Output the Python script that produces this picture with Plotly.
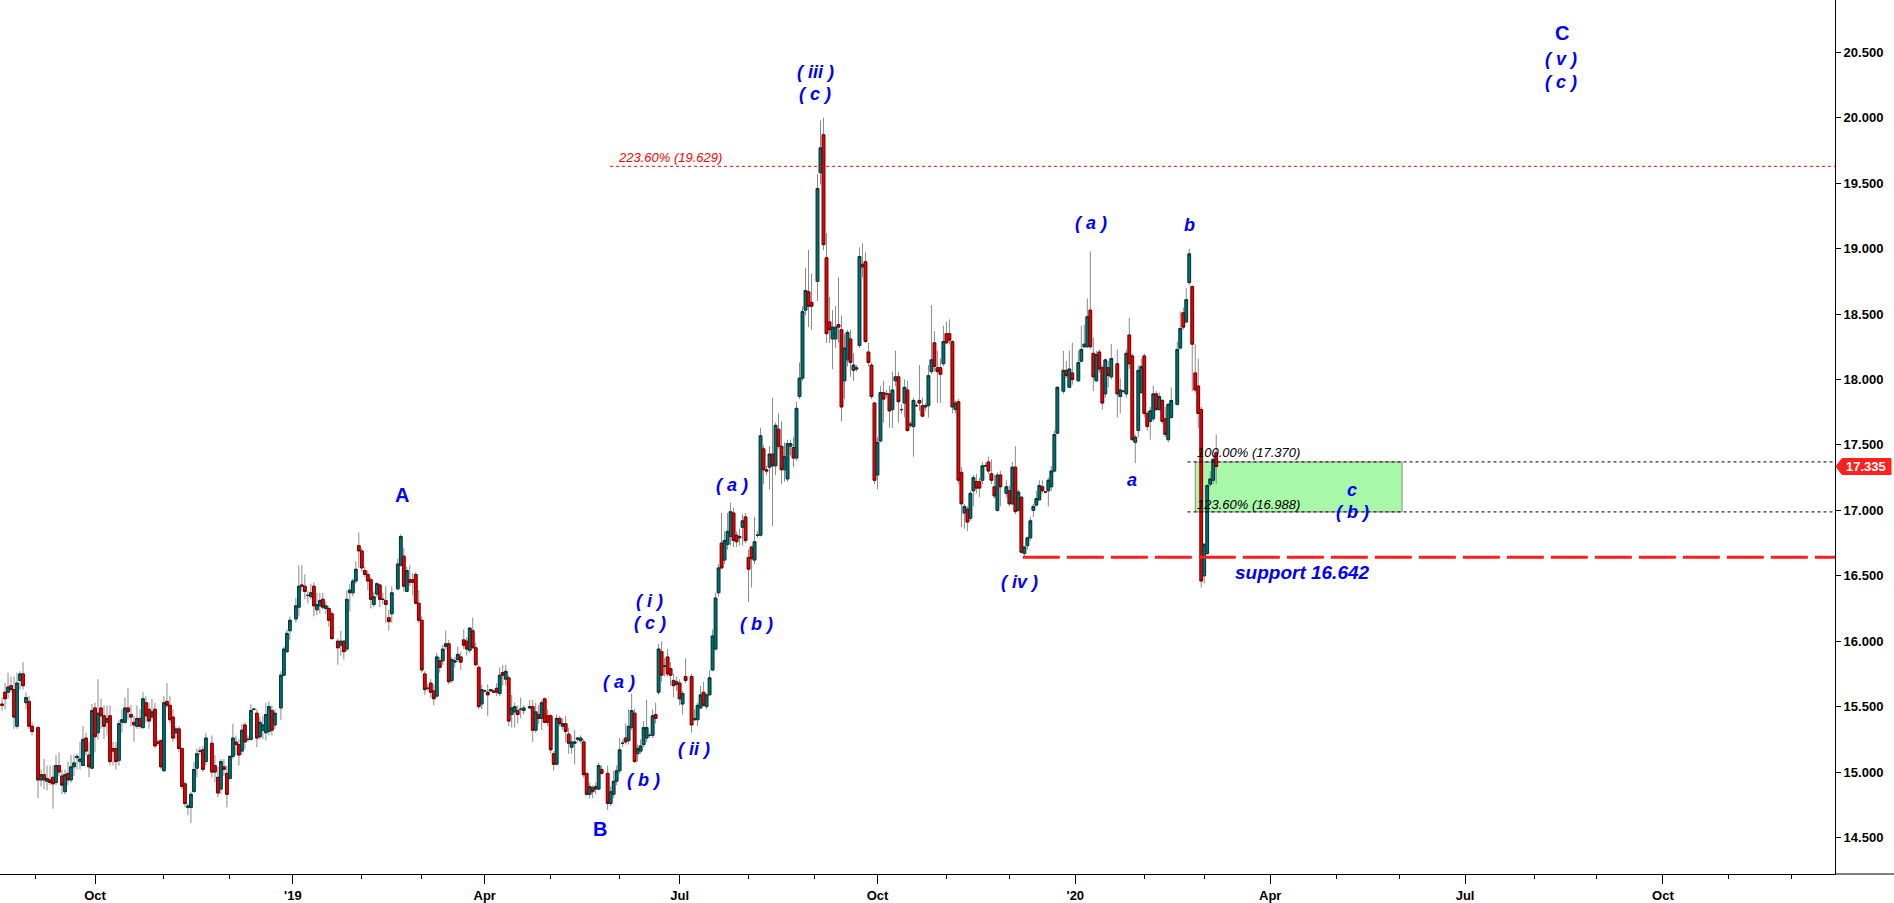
import pandas as pd
import plotly.graph_objects as go

# ---------------- data: daily candles (open, high, low, close) ----------------
aug_2018 = [
    (15.52, 15.57, 15.47, 15.51), (15.61, 15.68, 15.48, 15.56), (15.61, 15.76, 15.56, 15.65),
    (15.66, 15.73, 15.61, 15.63), (15.63, 15.73, 15.33, 15.42), (15.35, 15.76, 15.33, 15.68),
    (15.70, 15.77, 15.63, 15.75), (15.75, 15.84, 15.63, 15.66), (15.53, 15.61, 15.48, 15.57),
    (15.54, 15.58, 15.33, 15.35), (15.35, 15.38, 15.28, 15.31),
]
sep_2018 = [
    (15.34, 15.35, 14.80, 14.94), (14.94, 15.02, 14.89, 14.98), (14.98, 15.10, 14.87, 14.94),
    (14.93, 15.05, 14.86, 14.95), (14.94, 15.05, 14.90, 14.92), (14.96, 15.05, 14.72, 14.91),
    (14.92, 15.13, 14.90, 15.05), (15.05, 15.15, 14.97, 15.00), (14.97, 15.02, 14.83, 14.90),
    (14.85, 15.02, 14.83, 14.98), (14.99, 15.08, 14.90, 14.94), (14.94, 15.13, 14.92, 15.04),
    (15.04, 15.13, 14.97, 15.07), (15.11, 15.14, 15.02, 15.12), (15.08, 15.23, 15.02, 15.10),
    (15.05, 15.35, 15.05, 15.25), (15.26, 15.30, 15.13, 15.16), (15.13, 15.23, 14.96, 15.04),
    (15.03, 15.52, 15.02, 15.47),
]
oct_2018 = [
    (15.49, 15.53, 15.15, 15.27), (15.30, 15.71, 15.25, 15.45), (15.49, 15.56, 15.33, 15.43),
    (15.43, 15.51, 15.25, 15.35), (15.38, 15.51, 15.28, 15.41), (15.43, 15.51, 15.05, 15.08),
    (15.18, 15.23, 15.05, 15.16), (15.18, 15.23, 15.02, 15.08), (15.09, 15.40, 15.05, 15.37),
    (15.38, 15.48, 15.30, 15.40), (15.38, 15.57, 15.37, 15.49), (15.49, 15.64, 15.40, 15.46),
    (15.44, 15.51, 15.35, 15.42), (15.38, 15.43, 15.23, 15.36), (15.35, 15.51, 15.33, 15.41),
    (15.41, 15.48, 15.33, 15.35), (15.34, 15.61, 15.33, 15.56), (15.53, 15.58, 15.38, 15.43),
    (15.48, 15.53, 15.33, 15.39), (15.42, 15.56, 15.40, 15.46), (15.48, 15.53, 15.18, 15.20),
    (15.23, 15.25, 15.20, 15.22), (15.24, 15.25, 15.02, 15.04),
]
nov_2018 = [
    (15.01, 15.58, 15.00, 15.53), (15.54, 15.68, 15.49, 15.51), (15.51, 15.58, 15.37, 15.40),
    (15.42, 15.48, 15.23, 15.26), (15.30, 15.35, 15.25, 15.33), (15.33, 15.35, 15.15, 15.18),
    (15.18, 15.19, 14.87, 14.89), (14.91, 14.93, 14.73, 14.76), (14.73, 14.76, 14.67, 14.74),
    (14.73, 14.85, 14.61, 14.83), (14.85, 15.08, 14.85, 15.02), (15.03, 15.18, 14.96, 15.14),
    (15.16, 15.19, 15.13, 15.16), (15.17, 15.20, 15.00, 15.02), (15.08, 15.30, 15.05, 15.26),
    (15.22, 15.28, 14.96, 15.00), (15.05, 15.13, 14.92, 15.00), (14.96, 15.04, 14.81, 14.84),
    (14.87, 15.10, 14.83, 15.08), (15.04, 15.10, 14.97, 15.02), (14.99, 15.05, 14.73, 14.83),
]
dec_2018 = [
    (14.95, 15.13, 14.95, 15.12), (15.12, 15.37, 15.10, 15.26), (15.23, 15.28, 15.13, 15.21),
    (15.21, 15.25, 15.05, 15.13), (15.16, 15.37, 15.13, 15.32), (15.36, 15.38, 15.18, 15.23),
    (15.25, 15.28, 15.23, 15.25), (15.25, 15.52, 15.24, 15.47), (15.48, 15.49, 15.47, 15.48),
    (15.45, 15.48, 15.19, 15.26), (15.27, 15.42, 15.25, 15.38), (15.32, 15.43, 15.25, 15.36),
    (15.30, 15.53, 15.24, 15.44), (15.31, 15.54, 15.28, 15.50), (15.47, 15.51, 15.28, 15.32),
    (15.36, 15.48, 15.33, 15.45), (15.49, 15.77, 15.40, 15.74), (15.74, 15.96, 15.73, 15.94),
    (15.92, 16.09, 15.91, 16.06), (16.08, 16.19, 16.01, 16.16),
]
jan_2019 = [
    (16.17, 16.33, 16.14, 16.27), (16.26, 16.58, 16.19, 16.42), (16.43, 16.58, 16.38, 16.42),
    (16.42, 16.51, 16.32, 16.38), (16.35, 16.38, 16.29, 16.35), (16.34, 16.44, 16.32, 16.37),
    (16.42, 16.45, 16.19, 16.27), (16.24, 16.37, 16.20, 16.28), (16.27, 16.37, 16.21, 16.31),
    (16.32, 16.37, 16.24, 16.26), (16.25, 16.30, 16.21, 16.27), (16.25, 16.27, 16.11, 16.16),
    (16.21, 16.23, 16.01, 16.02), (16.00, 16.02, 15.82, 15.95), (15.97, 16.08, 15.89, 16.00),
    (16.00, 16.01, 15.86, 15.92), (15.94, 16.39, 15.92, 16.32), (16.37, 16.44, 16.23, 16.39),
    (16.37, 16.48, 16.34, 16.46), (16.46, 16.61, 16.44, 16.55), (16.73, 16.83, 16.56, 16.69),
]
feb_2019 = [
    (16.69, 16.71, 16.53, 16.56), (16.54, 16.57, 16.49, 16.51), (16.51, 16.54, 16.39, 16.46),
    (16.47, 16.49, 16.25, 16.32), (16.28, 16.38, 16.26, 16.34), (16.36, 16.45, 16.34, 16.44),
    (16.43, 16.44, 16.26, 16.32), (16.32, 16.37, 16.28, 16.32), (16.31, 16.42, 16.14, 16.28),
    (16.18, 16.24, 16.08, 16.15), (16.21, 16.42, 16.14, 16.37), (16.40, 16.63, 16.39, 16.59),
    (16.58, 16.82, 16.57, 16.80), (16.65, 16.71, 16.38, 16.42), (16.38, 16.57, 16.38, 16.54),
    (16.47, 16.58, 16.42, 16.45), (16.47, 16.52, 16.35, 16.45), (16.51, 16.53, 16.29, 16.29),
    (16.29, 16.39, 16.14, 16.16),
]
mar_2019 = [
    (16.16, 16.19, 15.76, 15.78), (15.75, 15.77, 15.59, 15.63), (15.64, 15.67, 15.62, 15.64),
    (15.68, 15.71, 15.57, 15.61), (15.62, 15.67, 15.51, 15.56), (15.58, 15.91, 15.57, 15.88),
    (15.85, 15.88, 15.76, 15.80), (15.85, 15.97, 15.82, 15.94), (15.96, 16.08, 15.94, 15.98),
    (15.98, 16.01, 15.67, 15.69), (15.70, 15.88, 15.68, 15.86), (15.84, 15.88, 15.80, 15.85),
    (15.86, 15.96, 15.84, 15.90), (15.88, 15.92, 15.78, 15.84), (16.01, 16.09, 15.94, 15.97),
    (16.00, 16.03, 15.89, 15.94), (15.93, 16.11, 15.91, 16.10), (16.08, 16.18, 15.94, 15.95),
    (15.95, 15.99, 15.81, 15.82), (15.80, 15.82, 15.48, 15.50), (15.52, 15.67, 15.48, 15.63),
]
apr_2019 = [
    (15.62, 15.63, 15.61, 15.62), (15.61, 15.67, 15.43, 15.59), (15.62, 15.63, 15.62, 15.63),
    (15.62, 15.63, 15.61, 15.61), (15.64, 15.68, 15.58, 15.61), (15.60, 15.80, 15.58, 15.74),
    (15.76, 15.82, 15.66, 15.74), (15.71, 15.82, 15.66, 15.77), (15.72, 15.74, 15.35, 15.39),
    (15.44, 15.59, 15.34, 15.49), (15.46, 15.53, 15.34, 15.50), (15.47, 15.51, 15.37, 15.44),
    (15.48, 15.57, 15.41, 15.48), (15.47, 15.51, 15.44, 15.49), (15.49, 15.55, 15.48, 15.50),
    (15.50, 15.55, 15.23, 15.32), (15.32, 15.53, 15.30, 15.46), (15.44, 15.51, 15.37, 15.41),
    (15.41, 15.55, 15.32, 15.53), (15.56, 15.57, 15.37, 15.38), (15.43, 15.48, 15.35, 15.38),
]
may_2019 = [
    (15.43, 15.44, 15.14, 15.17), (15.14, 15.16, 15.01, 15.06), (15.06, 15.44, 15.05, 15.41),
    (15.41, 15.43, 15.35, 15.37), (15.35, 15.41, 15.32, 15.37), (15.37, 15.43, 15.23, 15.31),
    (15.29, 15.34, 15.14, 15.22), (15.19, 15.28, 15.14, 15.23), (15.22, 15.32, 15.06, 15.23),
    (15.25, 15.26, 15.23, 15.26), (15.24, 15.28, 15.22, 15.26), (15.23, 15.25, 14.96, 14.98),
    (14.99, 14.99, 14.82, 14.83), (14.83, 14.92, 14.80, 14.89), (14.88, 14.90, 14.80, 14.85),
    (14.87, 14.92, 14.83, 14.89), (14.87, 15.07, 14.86, 15.05), (15.02, 15.05, 14.98, 14.99),
    (14.99, 15.05, 14.71, 14.76), (14.76, 14.89, 14.74, 14.85), (14.83, 15.01, 14.80, 14.93),
    (14.93, 15.05, 14.90, 15.01),
]
jun_2019 = [
    (15.01, 15.26, 14.99, 15.17), (15.22, 15.25, 15.19, 15.22), (15.26, 15.37, 15.21, 15.23),
    (15.24, 15.48, 15.21, 15.35), (15.34, 15.60, 15.32, 15.47), (15.45, 15.48, 15.07, 15.08),
    (15.14, 15.21, 15.08, 15.18), (15.16, 15.25, 15.14, 15.20), (15.21, 15.39, 15.19, 15.34),
    (15.26, 15.55, 15.23, 15.34), (15.28, 15.30, 15.26, 15.28), (15.28, 15.48, 15.26, 15.43),
    (15.44, 15.53, 15.37, 15.41), (15.61, 15.98, 15.59, 15.94), (15.92, 16.00, 15.69, 15.74),
    (15.81, 15.87, 15.73, 15.81), (15.88, 15.94, 15.73, 15.75), (15.79, 15.84, 15.66, 15.74),
    (15.70, 15.75, 15.57, 15.66), (15.67, 15.73, 15.62, 15.69),
]
jul_2019 = [
    (15.68, 15.71, 15.51, 15.56), (15.52, 15.62, 15.44, 15.60), (15.73, 15.87, 15.68, 15.70),
    (15.73, 15.75, 15.30, 15.36), (15.40, 15.48, 15.39, 15.41), (15.40, 15.53, 15.35, 15.51),
    (15.49, 15.66, 15.48, 15.59), (15.61, 15.69, 15.50, 15.51), (15.50, 15.60, 15.48, 15.59),
    (15.59, 15.78, 15.59, 15.72), (15.78, 16.09, 15.77, 16.04), (15.94, 16.37, 15.93, 16.33),
    (16.37, 16.59, 16.34, 16.56), (16.75, 16.98, 16.55, 16.56), (16.62, 16.84, 16.59, 16.77),
    (16.74, 16.98, 16.70, 16.84), (16.80, 17.06, 16.73, 16.99), (16.98, 17.02, 16.72, 16.77),
    (16.81, 16.84, 16.72, 16.76), (16.79, 16.86, 16.73, 16.80), (16.87, 16.97, 16.73, 16.92),
    (16.95, 16.98, 16.75, 16.77),
]
aug_2019 = [
    (16.64, 16.70, 16.30, 16.55), (16.72, 16.73, 16.41, 16.63), (16.62, 16.95, 16.59, 16.76),
    (16.81, 16.84, 16.79, 16.81), (16.81, 17.63, 16.80, 17.57), (17.47, 17.50, 17.20, 17.31),
    (17.31, 17.34, 17.27, 17.30), (17.33, 17.49, 17.16, 17.43), (17.43, 17.86, 16.88, 17.34),
    (17.34, 17.67, 17.27, 17.65), (17.62, 17.74, 17.47, 17.49), (17.49, 17.68, 17.20, 17.31),
    (17.31, 17.52, 17.22, 17.41), (17.24, 17.54, 17.22, 17.51), (17.49, 17.54, 17.42, 17.51),
    (17.48, 17.56, 17.33, 17.40), (17.40, 17.83, 17.38, 17.78), (17.87, 18.13, 17.85, 18.01),
    (18.01, 18.56, 17.99, 18.52), (18.53, 18.85, 18.49, 18.68), (18.67, 18.99, 18.40, 18.56),
    (18.59, 18.81, 18.38, 18.56),
]
sep_2019 = [
    (18.75, 19.57, 18.60, 19.46), (19.58, 19.98, 19.49, 19.77), (19.87, 20.00, 18.99, 19.03),
    (18.93, 19.12, 18.28, 18.35), (18.44, 18.63, 18.28, 18.38), (18.31, 18.53, 18.08, 18.40),
    (18.31, 18.56, 18.24, 18.40), (18.42, 18.78, 18.28, 18.40), (18.38, 18.49, 17.68, 17.79),
    (17.99, 18.35, 17.85, 18.24), (18.15, 18.38, 18.10, 18.36), (18.31, 18.38, 18.02, 18.13),
    (18.07, 18.20, 17.99, 18.11), (18.09, 18.11, 18.06, 18.08), (18.26, 19.01, 18.24, 18.94),
    (18.88, 19.04, 18.78, 18.86), (18.90, 18.97, 18.28, 18.29), (18.21, 18.28, 18.10, 18.13),
    (18.11, 18.13, 17.85, 17.87), (17.82, 17.83, 17.20, 17.23),
]
oct_2019 = [
    (17.27, 17.56, 17.16, 17.52), (17.53, 17.95, 17.52, 17.90), (17.90, 17.99, 17.67, 17.85),
    (17.89, 17.92, 17.86, 17.89), (17.89, 17.95, 17.63, 17.76), (17.77, 18.06, 17.63, 17.92),
    (17.99, 18.22, 17.95, 18.02), (18.02, 18.06, 17.67, 17.83), (17.77, 17.81, 17.74, 17.77),
    (17.82, 18.00, 17.71, 17.94), (17.92, 17.99, 17.60, 17.61), (17.66, 17.68, 17.63, 17.65),
    (17.64, 17.86, 17.41, 17.84), (17.80, 17.82, 17.79, 17.80), (17.84, 18.11, 17.76, 17.82),
    (17.80, 17.86, 17.71, 17.72), (17.79, 17.82, 17.76, 17.80), (17.80, 18.11, 17.71, 18.03),
    (18.06, 18.57, 18.04, 18.15), (18.28, 18.37, 18.06, 18.10), (18.09, 18.22, 17.82, 18.06),
    (18.09, 18.16, 17.82, 18.04), (18.12, 18.41, 18.10, 18.29),
]
nov_2019 = [
    (18.35, 18.44, 18.27, 18.28), (18.35, 18.46, 18.27, 18.30), (18.29, 18.30, 17.74, 17.79),
    (17.77, 17.84, 17.74, 17.82), (17.83, 17.85, 17.20, 17.23), (17.29, 17.33, 16.87, 17.05),
    (16.98, 17.05, 16.86, 17.03), (17.01, 17.03, 16.84, 16.91), (16.94, 17.15, 16.92, 17.13),
    (17.15, 17.27, 17.03, 17.25), (17.22, 17.28, 17.13, 17.17), (17.22, 17.25, 17.10, 17.17),
    (17.23, 17.37, 17.20, 17.34), (17.34, 17.36, 17.33, 17.34), (17.37, 17.41, 17.28, 17.30),
    (17.28, 17.39, 17.20, 17.23), (17.18, 17.27, 17.09, 17.11), (17.00, 17.29, 16.99, 17.27),
    (17.27, 17.30, 17.03, 17.18), (17.13, 17.23, 17.10, 17.18),
]
dec_2019 = [
    (17.15, 17.19, 17.03, 17.05), (17.05, 17.37, 17.04, 17.33), (17.33, 17.49, 16.97, 16.99),
    (17.00, 17.16, 16.99, 17.14), (17.10, 17.11, 16.67, 16.68), (16.67, 16.73, 16.65, 16.72),
    (16.73, 16.80, 16.70, 16.79), (16.79, 16.95, 16.77, 16.92), (17.00, 17.05, 16.95, 17.03),
    (17.04, 17.15, 17.03, 17.09), (17.08, 17.23, 17.08, 17.19), (17.18, 17.23, 17.13, 17.15),
    (17.14, 17.15, 17.13, 17.14), (17.15, 17.25, 17.03, 17.23), (17.18, 17.34, 17.15, 17.30),
    (17.30, 17.61, 17.29, 17.58), (17.59, 17.95, 17.58, 17.94), (17.91, 18.22, 17.89, 18.07),
    (18.07, 18.14, 18.01, 18.03), (17.94, 18.22, 17.94, 18.08), (18.05, 18.28, 17.96, 18.00),
]
jan_2020 = [
    (17.99, 18.22, 17.98, 18.13), (18.14, 18.41, 18.13, 18.23), (18.25, 18.42, 18.24, 18.27),
    (18.25, 18.62, 18.24, 18.48), (18.53, 18.98, 18.23, 18.25), (18.20, 18.32, 17.91, 18.02),
    (17.99, 18.22, 17.98, 18.19), (18.21, 18.23, 18.05, 18.08), (18.09, 18.11, 17.77, 17.82),
    (17.89, 18.16, 17.86, 18.15), (18.09, 18.14, 17.94, 18.03), (18.02, 18.27, 18.00, 18.16),
    (18.12, 18.23, 17.71, 17.89), (17.87, 18.01, 17.74, 17.92), (17.91, 17.92, 17.90, 17.91),
    (17.89, 18.23, 17.86, 18.20), (18.34, 18.47, 18.08, 18.12), (18.18, 18.20, 17.53, 17.54),
    (17.52, 17.58, 17.36, 17.56), (17.61, 18.11, 17.56, 18.07), (17.90, 18.16, 17.89, 18.10),
]
feb_2020 = [
    (18.18, 18.20, 17.71, 17.74), (17.74, 17.76, 17.61, 17.64), (17.68, 17.79, 17.54, 17.76),
    (17.70, 17.95, 17.68, 17.89), (17.89, 17.91, 17.76, 17.77), (17.77, 17.90, 17.76, 17.87),
    (17.84, 17.85, 17.66, 17.68), (17.70, 17.79, 17.56, 17.58), (17.54, 17.82, 17.52, 17.81),
    (17.71, 17.94, 17.70, 17.84), (17.81, 18.29, 17.80, 18.23), (18.24, 18.52, 18.23, 18.39),
    (18.51, 18.55, 18.38, 18.40), (18.44, 18.70, 18.43, 18.61), (18.74, 19.00, 18.72, 18.96),
    (18.71, 18.72, 17.91, 18.27), (18.05, 18.27, 17.90, 17.92), (17.95, 18.16, 17.63, 17.74),
    (17.77, 17.79, 16.41, 16.46),
]
mar_2020 = [
    (16.50, 16.75, 16.44, 16.74), (16.67, 17.20, 16.66, 17.19), (17.20, 17.30, 17.18, 17.24),
    (17.23, 17.42, 17.20, 17.39), (17.44, 17.58, 17.20, 17.335),
]

months = [
    ("2018-08", aug_2018), ("2018-09", sep_2018), ("2018-10", oct_2018), ("2018-11", nov_2018),
    ("2018-12", dec_2018), ("2019-01", jan_2019), ("2019-02", feb_2019), ("2019-03", mar_2019),
    ("2019-04", apr_2019), ("2019-05", may_2019), ("2019-06", jun_2019), ("2019-07", jul_2019),
    ("2019-08", aug_2019), ("2019-09", sep_2019), ("2019-10", oct_2019), ("2019-11", nov_2019),
    ("2019-12", dec_2019), ("2020-01", jan_2020), ("2020-02", feb_2020), ("2020-03", mar_2020),
]
first_day = "2018-08-17"
last_day = "2020-03-06"
holidays = ["2018-09-03", "2018-11-22", "2018-12-25", "2019-01-01", "2019-01-21", "2019-02-18",
            "2019-04-19", "2019-05-27", "2019-07-04", "2019-09-02", "2019-11-28", "2019-12-25",
            "2020-01-01", "2020-01-20", "2020-02-17"]

quarter_ticks = ["2018-10-01", "2019-01-01", "2019-04-01", "2019-07-01", "2019-10-01",
                 "2020-01-01", "2020-04-01", "2020-07-01", "2020-10-01"]
quarter_labels = ["Oct", "'19", "Apr", "Jul", "Oct", "'20", "Apr", "Jul", "Oct"]

fib_100 = 17.370
fib_1236 = 16.988
fib_2236 = 19.629
support = 16.642
last_price = 17.335

# ---------------- build date-indexed series ----------------
hol = set(pd.to_datetime(holidays))
start, end = pd.Timestamp(first_day), pd.Timestamp(last_day)
X, O, H, L, C = [], [], [], [], []
for ym, rows in months:
    p = pd.Period(ym, freq="M")
    lo = max(p.start_time.normalize(), start)
    hi = min(p.end_time.normalize(), end)
    days = [d for d in pd.bdate_range(lo, hi) if d not in hol]
    n = min(len(days), len(rows))
    for d, (o, h, l, c) in zip(days[:n], rows[:n]):
        X.append(d + pd.Timedelta(hours=12))
        O.append(o); H.append(h); L.append(l); C.append(c)

body_top = [max(o, c) for o, c in zip(O, C)]
body_bot = [min(o, c) for o, c in zip(O, C)]

TEAL = "#007070"
TEAL_EDGE = "#003A3A"
RED = "#EC0000"
RED_EDGE = "#7A0000"
WICK = "#8A8A8A"
BLUE = "#0000FF"
FONT = "Arial, 'Liberation Sans', sans-serif"

X_RANGE = ["2018-08-16 19:30", "2020-12-21 21:30"]
Y_RANGE = [14.221, 20.90]

fig = go.Figure()
# full candles with gray wicks (their bodies are then covered by the body trace)
fig.add_trace(go.Candlestick(
    x=X, open=O, high=H, low=L, close=C, whiskerwidth=0,
    increasing=dict(line=dict(color=WICK, width=1), fillcolor=TEAL),
    decreasing=dict(line=dict(color=WICK, width=1), fillcolor=RED),
    showlegend=False, hoverinfo="skip"))
# bodies with dark outlines
fig.add_trace(go.Candlestick(
    x=X, open=O, high=body_top, low=body_bot, close=C, whiskerwidth=0,
    increasing=dict(line=dict(color=TEAL_EDGE, width=1), fillcolor=TEAL),
    decreasing=dict(line=dict(color=RED_EDGE, width=1), fillcolor=RED),
    showlegend=False, hoverinfo="skip"))

# ticks
qt = [pd.Timestamp(t) + pd.Timedelta(hours=12) for t in quarter_ticks]
month_starts = pd.date_range("2018-09-01", "2020-12-31", freq="BMS")
minor = [d + pd.Timedelta(hours=12) for d in month_starts if d.month not in (1, 4, 7, 10)]

tickfont = dict(family=FONT, size=13, color="black", weight="bold")
fig.update_layout(
    width=1894, height=903,
    margin=dict(l=0, r=59, t=0, b=24),
    plot_bgcolor="white", paper_bgcolor="white",
    showlegend=False, boxmode="overlay", boxgap=0.1, boxgroupgap=0,
    xaxis=dict(
        type="date", range=X_RANGE, rangebreaks=[dict(bounds=["sat", "mon"])],
        rangeslider=dict(visible=False), fixedrange=True,
        tickmode="array", tickvals=qt, ticktext=quarter_labels,
        ticks="outside", ticklen=9, tickcolor="black", tickwidth=1,
        showline=True, linecolor="black", linewidth=1,
        showgrid=False, zeroline=False, tickfont=tickfont,
        minor=dict(tickmode="array", tickvals=minor, ticks="outside", ticklen=4,
                   tickcolor="black", showgrid=False),
    ),
    yaxis=dict(
        side="right", range=Y_RANGE, tick0=14.5, dtick=0.5, tickformat=".3f",
        ticks="outside", ticklen=5, tickcolor="black", fixedrange=True,
        showline=True, linecolor="black", linewidth=1,
        showgrid=False, zeroline=False, tickfont=tickfont,
    ),
)

shapes = []
# green target box
shapes.append(dict(type="rect", xref="x", yref="y", x0="2020-02-26 12:00", x1="2020-06-02 12:00",
                   y0=fib_1236, y1=fib_100, fillcolor="#A8F8A8", line=dict(color="#8A8A8A", width=1),
                   layer="below"))
# fib lines
for lvl in (fib_100, fib_1236):
    shapes.append(dict(type="line", xref="x", yref="y", x0="2020-02-21 22:00", x1=X_RANGE[1],
                       y0=lvl, y1=lvl, line=dict(color="black", width=1, dash="3px,3px")))
shapes.append(dict(type="line", xref="x", yref="y", x0="2019-05-29 07:00", x1=X_RANGE[1],
                   y0=fib_2236, y1=fib_2236, line=dict(color="#FF0000", width=1, dash="3px,3px")))
# support
shapes.append(dict(type="line", xref="x", yref="y", x0="2019-12-09 00:00", x1=X_RANGE[1],
                   y0=support, y1=support, line=dict(color="#FF1E1E", width=3, dash="37px,7px")))
# extend x axis line under the price scale
shapes.append(dict(type="line", xref="paper", yref="paper", x0=1, x1=1894 / 1835, y0=0, y1=0,
                   line=dict(color="black", width=1)))
# last price tag
px_per_unit = 879 / (Y_RANGE[1] - Y_RANGE[0])
half = 8 / px_per_unit
xa, xb, xc = 1836 / 1835, 1842 / 1835, 1891 / 1835
shapes.append(dict(type="path", xref="paper", yref="y",
                   path=f"M {xa},{last_price} L {xb},{last_price + half} L {xc},{last_price + half} "
                        f"L {xc},{last_price - half} L {xb},{last_price - half} Z",
                   fillcolor="#FF2020", line=dict(color="#FF2020", width=1)))
fig.update_layout(shapes=shapes)

def wave(x, y, text, size=18, italic=True):
    return dict(x=x, y=y, xref="x", yref="y", text=text, showarrow=False,
                xanchor="center", yanchor="middle",
                font=dict(family=FONT, size=size, color=BLUE, weight="bold",
                          style="italic" if italic else "normal"))

ann = [
    wave("2019-02-20 21:36", 17.116, "A", 20, False),
    wave("2019-05-24 00:00", 14.563, "B", 20, False),
    wave("2020-08-14 19:00", 20.650, "C", 20, False),
    wave("2020-08-14 12:00", 20.452, "( v )"),
    wave("2020-08-14 12:00", 20.277, "( c )"),
    wave("2019-09-02 19:00", 20.350, "( iii )"),
    wave("2019-09-02 19:00", 20.185, "( c )"),
    wave("2020-01-08 17:00", 19.193, "( a )"),
    wave("2020-02-24 17:00", 19.183, "b"),
    wave("2020-01-28 09:36", 17.230, "a"),
    wave("2020-05-08 19:00", 17.155, "c"),
    wave("2020-05-08 21:36", 16.988, "( b )"),
    wave("2020-04-16 09:36", 16.524, "support 16.642", 19),
    wave("2019-06-17 13:00", 16.311, "( i )"),
    wave("2019-06-17 13:00", 16.136, "( c )"),
    wave("2019-06-03 07:00", 15.688, "( a )"),
    wave("2019-06-13 09:36", 14.943, "( b )"),
    wave("2019-07-08 07:00", 15.176, "( ii )"),
    wave("2019-08-06 04:48", 16.131, "( b )"),
    wave("2019-07-25 00:00", 17.192, "( a )"),
    wave("2019-12-06 00:00", 16.455, "( iv )"),
]
fib_font = dict(family=FONT, size=13, color="black", style="italic")
ann.append(dict(x="2020-02-26 12:00", y=17.443, xref="x", yref="y", text="100.00% (17.370)",
                showarrow=False, xanchor="left", yanchor="middle", font=fib_font))
ann.append(dict(x="2020-02-26 12:00", y=17.048, xref="x", yref="y", text="123.60% (16.988)",
                showarrow=False, xanchor="left", yanchor="middle", font=fib_font))
ann.append(dict(x="2019-05-31 07:00", y=19.700, xref="x", yref="y", text="223.60% (19.629)",
                showarrow=False, xanchor="left", yanchor="middle",
                font=dict(family=FONT, size=13, color="#FF0000", style="italic")))
ann.append(dict(x=1866 / 1835, y=last_price, xref="paper", yref="y", text=f"{last_price:.3f}",
                showarrow=False, xanchor="center", yanchor="middle",
                font=dict(family=FONT, size=13, color="white", weight="bold")))
fig.update_layout(annotations=ann)

fig.write_html("out.html", config={"displayModeBar": False},
               post_script="document.body.style.margin='0';document.body.style.overflow='hidden';")
